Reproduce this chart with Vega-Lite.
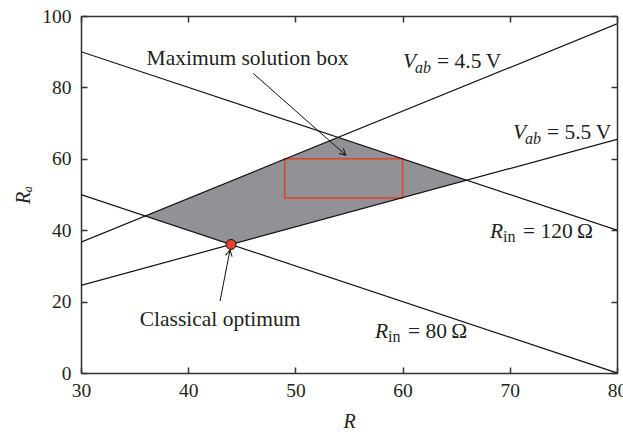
{
  "$schema": "https://vega.github.io/schema/vega-lite/v6.json",
  "width": 536,
  "height": 357,
  "autosize": {"type": "none"},
  "padding": {"left": 81, "top": 16, "right": 6, "bottom": 62},
  "background": "white",
  "config": {
    "view": {"stroke": null},
    "font": "Liberation Serif",
    "axis": {
      "grid": false,
      "domainColor": "#333333",
      "domainWidth": 1.5,
      "tickColor": "#333333",
      "tickWidth": 1.5,
      "tickSize": -6,
      "labelFont": "Liberation Serif",
      "labelFontSize": 19.5,
      "labelColor": "#231f20",
      "labelFlush": false,
      "labelOverlap": false,
      "titleFont": "Liberation Serif",
      "titleFontSize": 20,
      "titleFontStyle": "italic",
      "titleFontWeight": "normal",
      "titleColor": "#231f20"
    }
  },
  "datasets": {
    "lines": [
      {"id": "Rin120", "R": 30, "Ra": 90},
      {"id": "Rin120", "R": 80, "Ra": 40},
      {"id": "Rin80", "R": 30, "Ra": 50},
      {"id": "Rin80", "R": 80, "Ra": 0},
      {"id": "Vab45", "R": 30, "Ra": 36.67},
      {"id": "Vab45", "R": 80, "Ra": 97.78},
      {"id": "Vab55", "R": 30, "Ra": 24.55},
      {"id": "Vab55", "R": 80, "Ra": 65.45}
    ],
    "region": [
      {"R": 36, "Ra": 44, "Ra2": 44},
      {"R": 44, "Ra": 36, "Ra2": 53.78},
      {"R": 54, "Ra": 44.18, "Ra2": 66},
      {"R": 66, "Ra": 54, "Ra2": 54}
    ],
    "box": [{"R": 49, "R2": 60, "Ra": 49, "Ra2": 60}],
    "optimum": [{"R": 44, "Ra": 36}],
    "arrows": [
      {"R": 46.07, "Ra": 83.9, "R2": 54.69, "Ra2": 61.06, "angle": 131.5},
      {"R": 42.97, "Ra": 20.17, "R2": 43.9, "Ra2": 34.45, "angle": 11.1}
    ],
    "notes": [
      {"R": 45.53, "Ra": 86.27, "text": "Maximum solution box"},
      {"R": 42.97, "Ra": 13.17, "text": "Classical optimum"}
    ],
    "mainSym": [
      {"R": 60.04, "Ra": 85.43, "text": "V"},
      {"R": 70.3, "Ra": 65.55, "text": "V"},
      {"R": 68.15, "Ra": 37.8, "text": "R"},
      {"R": 57.43, "Ra": 9.8, "text": "R"}
    ],
    "subItalic": [
      {"R": 61.16, "Ra": 84.03, "text": "ab"},
      {"R": 71.42, "Ra": 64.15, "text": "ab"}
    ],
    "subRoman": [
      {"R": 69.37, "Ra": 36.7, "text": "in"},
      {"R": 58.64, "Ra": 8.68, "text": "in"}
    ],
    "rest": [
      {"R": 63.21, "Ra": 85.43, "text": "= 4.5\u2009V"},
      {"R": 73.47, "Ra": 65.55, "text": "= 5.5\u2009V"},
      {"R": 71.23, "Ra": 37.8, "text": "= 120\u2009\u03a9"},
      {"R": 60.5, "Ra": 9.8, "text": "= 80\u2009\u03a9"}
    ]
  },
  "layer": [
    {
      "encoding": {
        "x": {
          "field": "R", "type": "quantitative",
          "scale": {"domain": [30, 80], "nice": false, "zero": false},
          "axis": {"orient": "bottom", "values": [30, 40, 50, 60, 70, 80], "labelPadding": 14, "title": "R", "titlePadding": 12}
        },
        "y": {
          "field": "Ra", "type": "quantitative",
          "scale": {"domain": [0, 100], "nice": false, "zero": false},
          "axis": {"orient": "left", "values": [0, 20, 40, 60, 80, 100], "labelPadding": 16, "title": "R\u2090", "titlePadding": 8}
        }
      },
      "layer": [
        {
          "data": {"name": "region"},
          "mark": {"type": "area", "orient": "vertical", "color": "#919196", "opacity": 1},
          "encoding": {"y2": {"field": "Ra2"}}
        },
        {
          "data": {"name": "box"},
          "mark": {"type": "rect", "fill": null, "filled": false, "stroke": "#e8402a", "strokeWidth": 1.5},
          "encoding": {"x2": {"field": "R2"}, "y2": {"field": "Ra2"}}
        },
        {
          "data": {"name": "lines"},
          "mark": {"type": "line", "color": "#111111", "strokeWidth": 1.2, "clip": true},
          "encoding": {"detail": {"field": "id"}}
        },
        {
          "data": {"name": "arrows"},
          "mark": {"type": "rule", "color": "#111111", "strokeWidth": 1},
          "encoding": {"x2": {"field": "R2"}, "y2": {"field": "Ra2"}}
        },
        {
          "data": {"name": "arrows"},
          "mark": {"type": "point", "shape": "M -0.55 1 L 0 0 L 0.55 1", "filled": false, "stroke": "#111111", "strokeWidth": 1, "size": 150, "opacity": 1},
          "encoding": {
            "x": {"field": "R2", "type": "quantitative"},
            "y": {"field": "Ra2", "type": "quantitative"},
            "angle": {"field": "angle", "type": "quantitative", "scale": null}
          }
        },
        {
          "data": {"name": "optimum"},
          "mark": {"type": "point", "shape": "circle", "filled": true, "fill": "#e8402a", "stroke": "#111111", "strokeWidth": 1, "size": 100, "opacity": 1}
        },
        {
          "data": {"name": "notes"},
          "mark": {"type": "text", "font": "Liberation Serif", "fontSize": 21.5, "align": "center", "baseline": "alphabetic", "color": "#231f20"},
          "encoding": {"text": {"field": "text"}}
        },
        {
          "data": {"name": "mainSym"},
          "mark": {"type": "text", "font": "Liberation Serif", "fontSize": 21.5, "fontStyle": "italic", "align": "left", "baseline": "alphabetic", "color": "#231f20"},
          "encoding": {"text": {"field": "text"}}
        },
        {
          "data": {"name": "subItalic"},
          "mark": {"type": "text", "font": "Liberation Serif", "fontSize": 16, "fontStyle": "italic", "align": "left", "baseline": "alphabetic", "color": "#231f20"},
          "encoding": {"text": {"field": "text"}}
        },
        {
          "data": {"name": "subRoman"},
          "mark": {"type": "text", "font": "Liberation Serif", "fontSize": 16, "align": "left", "baseline": "alphabetic", "color": "#231f20"},
          "encoding": {"text": {"field": "text"}}
        },
        {
          "data": {"name": "rest"},
          "mark": {"type": "text", "font": "Liberation Serif", "fontSize": 21.5, "align": "left", "baseline": "alphabetic", "color": "#231f20"},
          "encoding": {"text": {"field": "text"}}
        }
      ]
    },
    {
      "data": {"name": "lines"},
      "mark": {"type": "point", "opacity": 0},
      "encoding": {
        "x": {
          "field": "R", "type": "quantitative",
          "scale": {"domain": [30, 80], "nice": false, "zero": false},
          "axis": {"orient": "top", "values": [30, 40, 50, 60, 70, 80], "labels": false, "title": null}
        },
        "y": {
          "field": "Ra", "type": "quantitative",
          "scale": {"domain": [0, 100], "nice": false, "zero": false},
          "axis": {"orient": "right", "values": [0, 20, 40, 60, 80, 100], "labels": false, "title": null}
        }
      }
    }
  ],
  "resolve": {"axis": {"x": "independent", "y": "independent"}}
}
